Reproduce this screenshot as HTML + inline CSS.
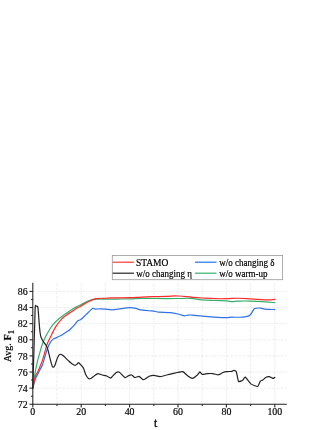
<!DOCTYPE html>
<html><head><meta charset="utf-8"><title>chart</title>
<style>
html,body{margin:0;padding:0;background:#fff;}
body{width:332px;height:430px;overflow:hidden;font-family:"Liberation Serif",serif;}
svg{display:block;}
</style></head><body>
<svg width="332" height="430" viewBox="0 0 332 430">
<rect width="332" height="430" fill="#fff"/>
<defs><filter id="sf" x="0" y="0" width="332" height="430" filterUnits="userSpaceOnUse"><feGaussianBlur stdDeviation="0.25"/></filter></defs>
<g stroke="#d8d8d8" stroke-width="0.45" stroke-dasharray="3 1.2" fill="none"><line x1="57.00" y1="283.20" x2="57.00" y2="404.25"/><line x1="81.20" y1="283.20" x2="81.20" y2="404.25"/><line x1="105.40" y1="283.20" x2="105.40" y2="404.25"/><line x1="129.60" y1="283.20" x2="129.60" y2="404.25"/><line x1="153.80" y1="283.20" x2="153.80" y2="404.25"/><line x1="178.00" y1="283.20" x2="178.00" y2="404.25"/><line x1="202.20" y1="283.20" x2="202.20" y2="404.25"/><line x1="226.40" y1="283.20" x2="226.40" y2="404.25"/><line x1="250.60" y1="283.20" x2="250.60" y2="404.25"/><line x1="274.80" y1="283.20" x2="274.80" y2="404.25"/><line x1="32.80" y1="388.13" x2="286.80" y2="388.13"/><line x1="32.80" y1="372.01" x2="286.80" y2="372.01"/><line x1="32.80" y1="355.89" x2="286.80" y2="355.89"/><line x1="32.80" y1="339.77" x2="286.80" y2="339.77"/><line x1="32.80" y1="323.65" x2="286.80" y2="323.65"/><line x1="32.80" y1="307.53" x2="286.80" y2="307.53"/><line x1="32.80" y1="291.41" x2="286.80" y2="291.41"/></g>
<g filter="url(#sf)">
<g fill="none" stroke-width="1.2" stroke-linejoin="round" stroke-linecap="round">
<path stroke="#2f72e6" d="M32.80 388.13 C33.04 387.24 34.74 380.63 35.22 379.26 C35.70 377.89 37.16 375.40 37.64 374.43 C38.12 373.46 39.58 370.56 40.06 369.59 C40.54 368.62 42.00 366.05 42.48 364.76 C42.96 363.47 44.42 358.27 44.90 356.70 C45.38 355.12 46.84 350.37 47.32 349.04 C47.80 347.71 49.18 344.36 49.74 343.40 C50.30 342.43 52.16 339.97 52.89 339.37 C53.61 338.76 56.10 337.80 57.00 337.35 C57.90 336.91 60.87 335.50 61.84 334.93 C62.81 334.37 65.88 332.23 66.68 331.71 C67.48 331.19 69.00 330.42 69.83 329.69 C70.65 328.97 74.16 325.30 74.91 324.46 C75.66 323.61 76.70 321.76 77.33 321.23 C77.96 320.71 80.30 319.90 81.20 319.22 C82.10 318.53 85.12 315.47 86.28 314.38 C87.44 313.29 91.92 308.86 92.82 308.34 C93.71 307.81 94.51 309.09 95.24 309.14 C95.96 309.20 99.06 308.90 100.08 308.90 C101.09 308.90 104.24 309.05 105.40 309.14 C106.56 309.23 110.39 309.79 111.69 309.79 C113.00 309.79 117.28 309.29 118.47 309.14 C119.65 309.00 122.44 308.50 123.55 308.34 C124.66 308.17 128.34 307.53 129.60 307.53 C130.86 307.53 135.17 308.13 136.13 308.34 C137.10 308.54 138.02 309.30 139.28 309.54 C140.54 309.79 147.27 310.59 148.72 310.75 C150.17 310.92 152.78 311.02 153.80 311.16 C154.82 311.29 157.24 311.98 158.88 312.12 C160.53 312.27 168.34 312.42 170.26 312.61 C172.17 312.79 176.86 313.72 178.00 313.98 C179.14 314.24 180.95 315.00 181.63 315.19 C182.31 315.37 184.15 315.84 184.78 315.83 C185.41 315.82 187.15 315.18 187.92 315.11 C188.70 315.03 191.09 315.00 192.52 315.11 C193.95 315.21 200.02 315.96 202.20 316.15 C204.38 316.35 211.88 316.90 214.30 317.04 C216.72 317.19 224.63 317.59 226.40 317.61 C228.17 317.62 230.34 317.24 231.97 317.20 C233.59 317.16 240.82 317.39 242.61 317.20 C244.40 317.02 248.69 316.21 249.87 315.35 C251.06 314.49 253.38 309.30 254.47 308.58 C255.56 307.85 259.70 308.04 260.76 308.09 C261.83 308.15 263.72 309.00 265.12 309.14 C266.52 309.29 273.83 309.50 274.80 309.54"/>
<path stroke="#35b06c" d="M32.80 388.13 C33.36 384.37 34.09 378.40 35.22 372.01 C36.35 365.62 36.51 365.43 37.64 360.73 C38.77 356.02 38.93 355.81 40.06 351.86 C41.19 347.91 41.18 347.37 42.48 343.80 C43.78 340.23 43.93 339.93 45.63 336.55 C47.32 333.16 47.93 332.21 49.74 329.29 C51.55 326.38 51.68 326.12 53.37 324.05 C55.06 321.98 55.02 322.21 57.00 320.43 C58.98 318.64 59.58 318.13 61.84 316.40 C64.10 314.67 64.42 314.55 66.68 313.01 C68.94 311.47 69.26 311.22 71.52 309.79 C73.78 308.36 74.10 308.09 76.36 306.89 C78.62 305.68 78.32 306.06 81.20 304.63 C84.08 303.20 85.20 302.02 88.70 300.76 C92.20 299.50 92.31 299.59 96.20 299.23 C100.10 298.87 100.43 299.27 105.40 299.23 C110.37 299.19 111.85 299.16 117.50 299.07 C123.15 298.97 123.95 298.99 129.60 298.83 C135.25 298.66 136.05 298.42 141.70 298.34 C147.35 298.27 145.33 298.47 153.80 298.50 C162.27 298.54 169.53 298.54 178.00 298.50 C186.47 298.47 184.45 298.02 190.10 298.34 C195.75 298.66 196.55 299.37 202.20 299.87 C207.85 300.38 208.65 300.27 214.30 300.52 C219.95 300.76 222.28 300.68 226.40 300.92 C230.52 301.17 229.14 301.53 231.97 301.57 C234.79 301.60 234.15 301.19 238.50 301.08 C242.85 300.97 244.39 300.89 250.60 301.08 C256.81 301.27 259.47 301.51 265.12 301.89 C270.77 302.26 272.54 302.51 274.80 302.69"/>
<path stroke="#ff2a2a" d="M32.80 388.13 C33.36 385.50 34.09 380.61 35.22 376.85 C36.35 373.08 36.51 374.45 37.64 372.01 C38.77 369.57 38.93 369.09 40.06 366.37 C41.19 363.64 41.35 363.71 42.48 360.32 C43.61 356.94 43.77 355.72 44.90 351.86 C46.03 348.00 45.96 347.37 47.32 343.80 C48.68 340.23 49.18 339.74 50.71 336.55 C52.23 333.35 52.39 332.82 53.85 330.10 C55.32 327.37 55.14 327.49 57.00 324.86 C58.86 322.23 59.58 321.13 61.84 318.81 C64.10 316.50 64.42 316.60 66.68 314.95 C68.94 313.29 69.26 313.21 71.52 311.72 C73.78 310.24 74.10 309.93 76.36 308.58 C78.62 307.22 78.32 307.57 81.20 305.92 C84.08 304.26 85.20 303.18 88.70 301.49 C92.20 299.79 92.31 299.42 96.20 298.66 C100.10 297.91 101.79 298.45 105.40 298.26 C109.01 298.07 106.05 297.99 111.69 297.86 C117.34 297.73 122.60 297.88 129.60 297.70 C136.60 297.51 136.05 297.30 141.70 297.05 C147.35 296.81 148.15 296.80 153.80 296.65 C159.45 296.50 160.25 296.56 165.90 296.41 C171.55 296.26 171.90 295.80 178.00 296.00 C184.10 296.21 186.39 296.82 192.04 297.29 C197.68 297.76 196.78 297.70 202.20 298.02 C207.62 298.34 209.62 298.51 215.27 298.66 C220.91 298.81 220.98 298.76 226.40 298.66 C231.82 298.57 232.85 298.22 238.50 298.26 C244.15 298.30 244.39 298.45 250.60 298.83 C256.81 299.20 259.47 299.72 265.12 299.87 C270.77 300.02 272.54 299.56 274.80 299.47"/>
<path stroke="#242424" d="M32.80 388.13 C32.92 384.10 33.16 376.04 33.40 367.98 C33.65 359.92 33.77 356.05 34.01 347.83 C34.25 339.61 34.37 334.93 34.61 326.87 C34.86 318.81 34.98 311.64 35.22 307.53 C35.46 303.42 35.58 306.61 35.82 306.32 C36.07 306.03 36.07 306.03 36.43 306.08 C36.79 306.13 37.28 305.63 37.64 306.56 C38.00 307.50 38.00 308.30 38.24 310.75 C38.49 313.20 38.49 314.46 38.85 318.81 C39.21 323.17 39.58 328.73 40.06 332.52 C40.54 336.30 40.54 335.82 41.27 337.75 C42.00 339.69 42.72 340.66 43.69 342.19 C44.66 343.72 45.29 343.96 46.11 345.41 C46.93 346.86 46.98 346.70 47.80 349.44 C48.63 352.18 49.35 355.81 50.22 359.11 C51.10 362.42 51.53 364.35 52.16 365.96 C52.79 367.58 52.84 367.25 53.37 367.17 C53.90 367.09 54.10 367.17 54.82 365.56 C55.55 363.95 56.18 361.21 57.00 359.11 C57.82 357.02 58.16 356.05 58.94 355.08 C59.71 354.12 60.05 354.20 60.87 354.28 C61.69 354.36 61.89 354.52 63.05 355.49 C64.21 356.45 65.28 357.78 66.68 359.11 C68.08 360.45 69.39 361.56 70.07 362.18"/>
<path stroke="#242424" d="M70.07 362.18 C70.26 362.34 72.36 364.12 72.73 364.35 C73.10 364.58 74.85 365.32 75.15 365.32 C75.45 365.32 76.60 364.55 76.84 364.35 C77.09 364.15 78.25 362.55 78.54 362.58 C78.82 362.61 80.36 364.36 80.72 364.76 C81.07 365.15 83.01 367.24 83.38 367.98 C83.75 368.72 85.43 374.06 85.80 374.83 C86.17 375.60 88.09 378.19 88.46 378.46 C88.83 378.72 90.42 378.68 90.88 378.46 C91.34 378.24 94.22 375.83 94.75 375.48 C95.28 375.12 97.71 373.70 98.14 373.62 C98.57 373.55 100.21 374.31 100.56 374.43 C100.91 374.55 102.57 375.13 102.98 375.23 C103.39 375.33 105.58 375.59 106.13 375.80 C106.68 376.01 110.06 377.98 110.48 378.06 C110.91 378.13 111.51 377.26 111.93 376.85 C112.36 376.43 115.74 372.75 116.29 372.41 C116.84 372.08 118.80 371.87 119.44 372.25 C120.07 372.64 124.29 377.42 125.00 377.65 C125.71 377.88 128.62 375.59 129.12 375.40 C129.61 375.20 131.37 374.84 131.78 374.99 C132.19 375.15 134.15 377.39 134.68 377.49 C135.21 377.59 138.45 376.22 139.04 376.36 C139.62 376.50 142.24 379.21 142.67 379.43 C143.09 379.64 144.37 379.49 144.85 379.26 C145.33 379.03 148.51 376.57 149.20 376.28 C149.89 376.00 153.49 375.37 154.28 375.40 C155.08 375.42 158.92 376.78 160.09 376.68 C161.26 376.59 169.00 374.41 170.26 374.11 C171.52 373.80 176.35 372.68 177.27 372.49 C178.20 372.31 182.06 371.35 182.84 371.61 C183.62 371.87 187.21 375.54 187.92 376.04 C188.63 376.54 191.81 378.55 192.52 378.46 C193.23 378.36 197.07 375.24 197.60 374.75 C198.13 374.27 199.44 371.87 199.78 371.85 C200.12 371.83 201.61 374.30 202.20 374.43 C202.79 374.56 206.99 373.68 207.77 373.62 C208.55 373.56 212.16 373.54 212.85 373.62 C213.54 373.70 216.71 374.69 217.20 374.75 C217.70 374.81 219.20 374.59 219.62 374.43 C220.05 374.26 222.50 372.70 223.01 372.49 C223.53 372.29 225.99 371.69 226.64 371.61 C227.30 371.52 231.43 371.45 231.97 371.37 C232.50 371.28 233.58 370.37 233.90 370.40 C234.22 370.43 235.98 370.96 236.32 371.77 C236.66 372.58 238.04 380.82 238.50 381.44 C238.96 382.06 242.12 380.54 242.61 380.23 C243.11 379.92 244.67 376.90 245.28 377.17 C245.88 377.43 249.94 383.17 250.84 383.86 C251.75 384.54 256.93 386.72 257.62 386.52 C258.31 386.32 259.93 381.58 260.28 381.12 C260.63 380.66 262.03 380.52 262.46 380.23 C262.88 379.94 265.59 377.43 266.09 377.17 C266.58 376.90 268.74 376.51 269.23 376.60 C269.73 376.70 272.46 378.39 272.86 378.46 C273.27 378.52 274.66 377.56 274.80 377.49"/>
</g>
<g stroke="#222" stroke-width="1.05" fill="none"><line x1="32.8" y1="282.7" x2="32.8" y2="404.7"/><line x1="32.3" y1="404.25" x2="286.8" y2="404.25"/><line x1="29.50" y1="404.25" x2="32.8" y2="404.25"/><line x1="31.00" y1="396.19" x2="32.8" y2="396.19"/><line x1="29.50" y1="388.13" x2="32.8" y2="388.13"/><line x1="31.00" y1="380.07" x2="32.8" y2="380.07"/><line x1="29.50" y1="372.01" x2="32.8" y2="372.01"/><line x1="31.00" y1="363.95" x2="32.8" y2="363.95"/><line x1="29.50" y1="355.89" x2="32.8" y2="355.89"/><line x1="31.00" y1="347.83" x2="32.8" y2="347.83"/><line x1="29.50" y1="339.77" x2="32.8" y2="339.77"/><line x1="31.00" y1="331.71" x2="32.8" y2="331.71"/><line x1="29.50" y1="323.65" x2="32.8" y2="323.65"/><line x1="31.00" y1="315.59" x2="32.8" y2="315.59"/><line x1="29.50" y1="307.53" x2="32.8" y2="307.53"/><line x1="31.00" y1="299.47" x2="32.8" y2="299.47"/><line x1="29.50" y1="291.41" x2="32.8" y2="291.41"/><line x1="32.80" y1="404.25" x2="32.80" y2="407.55"/><line x1="57.00" y1="404.25" x2="57.00" y2="406.05"/><line x1="81.20" y1="404.25" x2="81.20" y2="407.55"/><line x1="105.40" y1="404.25" x2="105.40" y2="406.05"/><line x1="129.60" y1="404.25" x2="129.60" y2="407.55"/><line x1="153.80" y1="404.25" x2="153.80" y2="406.05"/><line x1="178.00" y1="404.25" x2="178.00" y2="407.55"/><line x1="202.20" y1="404.25" x2="202.20" y2="406.05"/><line x1="226.40" y1="404.25" x2="226.40" y2="407.55"/><line x1="250.60" y1="404.25" x2="250.60" y2="406.05"/><line x1="274.80" y1="404.25" x2="274.80" y2="407.55"/></g>
<g font-family="'Liberation Serif', serif" font-size="9.9" fill="#000" stroke="#000" stroke-width="0.18"><text x="27.6" y="407.90" text-anchor="end">72</text><text x="27.6" y="391.78" text-anchor="end">74</text><text x="27.6" y="375.66" text-anchor="end">76</text><text x="27.6" y="359.54" text-anchor="end">78</text><text x="27.6" y="343.42" text-anchor="end">80</text><text x="27.6" y="327.30" text-anchor="end">82</text><text x="27.6" y="311.18" text-anchor="end">84</text><text x="27.6" y="295.06" text-anchor="end">86</text><text x="32.80" y="414.6" text-anchor="middle">0</text><text x="81.20" y="414.6" text-anchor="middle">20</text><text x="129.60" y="414.6" text-anchor="middle">40</text><text x="178.00" y="414.6" text-anchor="middle">60</text><text x="226.40" y="414.6" text-anchor="middle">80</text><text x="274.80" y="414.6" text-anchor="middle">100</text></g>
<text x="155.5" y="426.7" text-anchor="middle" font-family="'Liberation Serif', serif" font-size="11.6" fill="#000" stroke="#000" stroke-width="0.3">t</text>
<text transform="translate(10.5 362.1) rotate(-90)" text-anchor="start" font-family="'Liberation Serif', serif" font-size="9.9" fill="#000" stroke="#000" stroke-width="0.2">Avg.<tspan dx="2.8" font-weight="bold" font-size="10.3">F</tspan><tspan font-size="7.8" dy="3.7" dx="0.3" font-weight="bold" stroke-width="0.15">1</tspan></text>
<rect x="112.3" y="255.5" width="170.3" height="24.2" fill="#fff" stroke="#9a9a9a" stroke-width="0.8"/>
<g stroke-width="1.2" fill="none"><line x1="112.6" y1="262.2" x2="134" y2="262.2" stroke="#ff3a3a"/><line x1="112.6" y1="273.2" x2="134" y2="273.2" stroke="#242424"/><line x1="195" y1="262.2" x2="216.5" y2="262.2" stroke="#2f72e6"/><line x1="195" y1="273.2" x2="216.5" y2="273.2" stroke="#35b06c"/></g>
<g font-family="'Liberation Serif', serif" font-size="9.5" fill="#000" stroke="#000" stroke-width="0.18"><text transform="translate(135.9 266.4) scale(1 1.05)">STAMO</text><text transform="translate(136.2 277.0) scale(1 1.13)" font-size="9.0">w/o changing η</text><text transform="translate(219.2 266.0) scale(1 1.13)" font-size="9.0">w/o changing δ</text><text transform="translate(219.2 277.0) scale(1 1.13)" font-size="9.0">w/o warm-up</text></g>
</g>
</svg>
</body></html>
